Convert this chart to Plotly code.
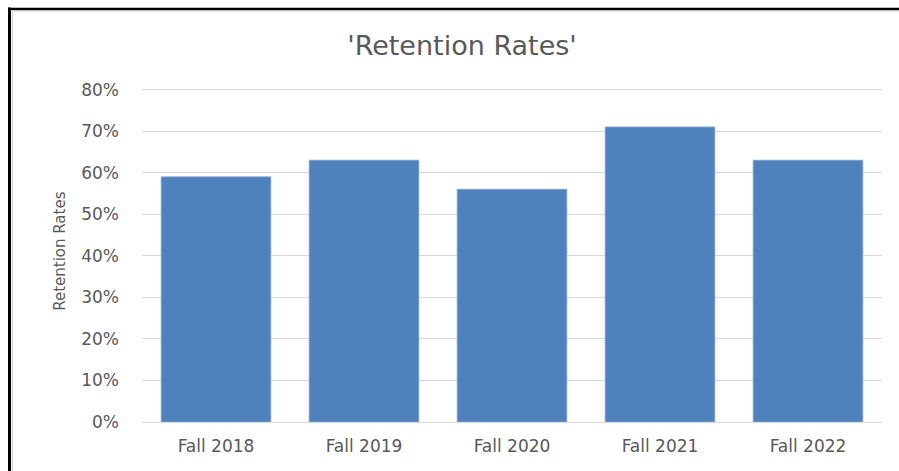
import plotly.graph_objects as go

categories = ["Fall 2018", "Fall 2019", "Fall 2020", "Fall 2021", "Fall 2022"]
retention = [0.59, 0.63, 0.56, 0.71, 0.63]
tick_vals = [0, 0.1, 0.2, 0.3, 0.4, 0.5, 0.6, 0.7, 0.8]
tick_text = ["0%", "10%", "20%", "30%", "40%", "50%", "60%", "70%", "80%"]

W, H = 899, 471
Y_TOP = 0.804
L, R, B = 142, 17, 49
T = H - B - 332 * Y_TOP / 0.8
pw, ph = W - L - R, H - T - B

def px(x):
    return (x - L) / pw

def py(y):
    return (H - B - y) / ph

FONT = "DejaVu Sans"
GRAY = "#595959"

fig = go.Figure(go.Bar(
    x=categories, y=retention,
    marker=dict(color="#4F81BD", line=dict(color="#7A9FD0", width=1)),
    width=0.74,
))

fig.update_layout(
    width=W, height=H,
    margin=dict(l=L, r=R, t=T, b=B),
    paper_bgcolor="white", plot_bgcolor="white",
    showlegend=False,
    title=dict(text="'Retention Rates'", x=462 / W, xanchor="center",
               y=1 - 46 / H, yanchor="middle",
               font=dict(family=FONT, size=27, color=GRAY)),
    xaxis=dict(showline=False, ticks="", ticklabelstandoff=12,
               tickfont=dict(family=FONT, size=17, color=GRAY)),
    yaxis=dict(range=[0, Y_TOP], tickvals=tick_vals, ticktext=tick_text,
               showgrid=True, gridcolor="#D9D9D9", gridwidth=1,
               zeroline=True, zerolinecolor="#D9D9D9", zerolinewidth=1,
               ticks="", ticklabelstandoff=22,
               tickfont=dict(family=FONT, size=17, color=GRAY)),
    bargap=0.26,
)

fig.add_annotation(text="Retention Rates", xref="paper", yref="paper",
                   x=px(60), y=py(252), textangle=-90, showarrow=False,
                   xanchor="center", yanchor="middle",
                   font=dict(family=FONT, size=15, color=GRAY))

# outer frame (black, left and top) and inner light frame
fig.add_shape(type="line", xref="paper", yref="paper",
              x0=px(9.5), x1=px(9.5), y0=py(8), y1=py(475),
              line=dict(color="black", width=3))
fig.add_shape(type="line", xref="paper", yref="paper",
              x0=px(8), x1=px(905), y0=py(9.3), y1=py(9.3),
              line=dict(color="black", width=2.5))
fig.add_shape(type="line", xref="paper", yref="paper",
              x0=px(12.5), x1=px(12.5), y0=py(11), y1=py(475),
              line=dict(color="#D0D0D0", width=1))
fig.add_shape(type="line", xref="paper", yref="paper",
              x0=px(12), x1=px(905), y0=py(11.5), y1=py(11.5),
              line=dict(color="#D0D0D0", width=1))

fig.write_html("out.html")
